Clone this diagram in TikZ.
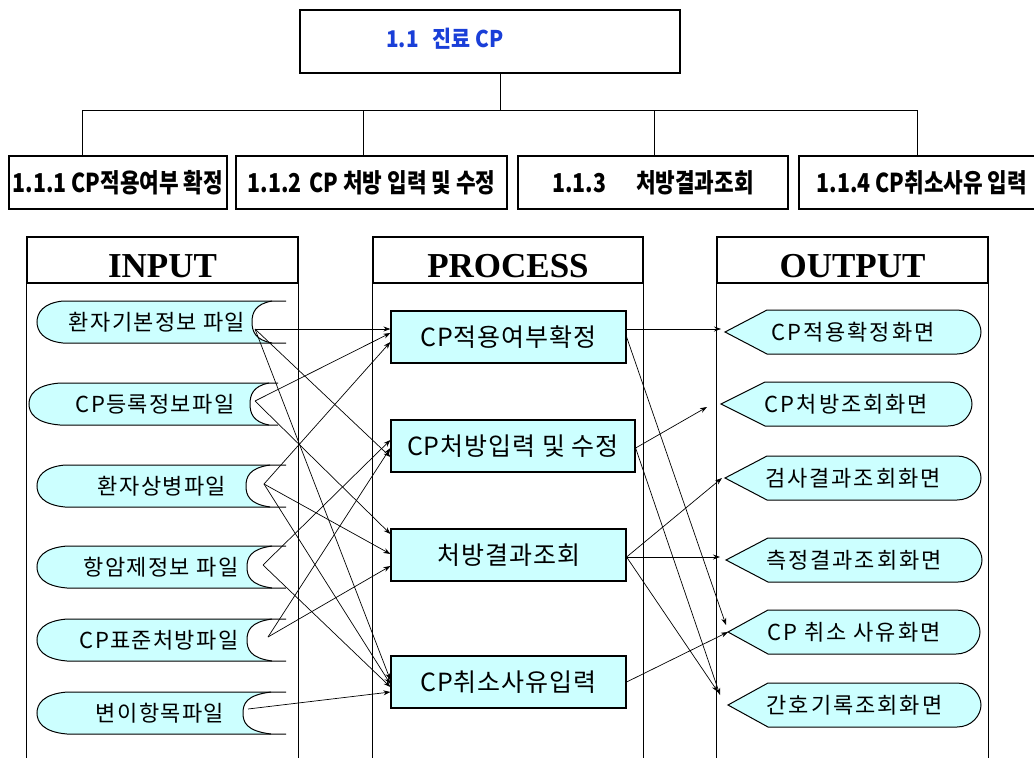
\documentclass[tikz,border=0pt]{standalone}
\usepackage{fontspec}
\setmainfont{Liberation Serif}
\newfontfamily\kri{Noto Sans CJK KR}[LetterSpace=6]
\newfontfamily\kro{Noto Sans CJK KR}[LetterSpace=9]
\newfontfamily\krp{Noto Sans CJK KR}[LetterSpace=4]
\newfontfamily\krh{Noto Sans CJK KR}[FakeStretch=0.82]
\newfontfamily\krt{Noto Sans CJK KR}[FakeStretch=0.9]
\usetikzlibrary{arrows.meta,calc}
\definecolor{cyanf}{HTML}{CCFFFF}
\definecolor{ttlblue}{HTML}{1A3FD8}
\newcommand\ishape[9]{%
 \fill[cyanf] (#4,{#2-21}) -- (#6,{#2-21}) .. controls ({#5+3},{#2-18}) and (#5,{#2-9}) .. (#5,#2) .. controls (#5,{#2+9}) and ({#5+3},{#2+18}) .. (#6,{#2+21}) -- (#4,{#2+21}) .. controls ({#3+6},{#2+19}) and (#3,{#2+9}) .. (#3,#2) .. controls (#3,{#2-9}) and ({#3+6},{#2-19}) .. (#4,{#2-21}) -- cycle;
 \draw[shline] (#7,{#2-21}) -- (#4,{#2-21}) .. controls ({#3+6},{#2-19}) and (#3,{#2-9}) .. (#3,#2) .. controls (#3,{#2+9}) and ({#3+6},{#2+19}) .. (#4,{#2+21}) -- (#7,{#2+21});
 \draw[shline] (#6,{#2-21}) .. controls ({#5+3},{#2-18}) and (#5,{#2-9}) .. (#5,#2) .. controls (#5,{#2+9}) and ({#5+3},{#2+18}) .. (#6,{#2+21});
 \node[itext] (#1) at (#8,#2) {#9};
}
\newcommand\oshape[6]{%
 \filldraw[shline,fill=cyanf] (#2,#4) coordinate (#1) -- (#3,{#4-22}) -- ({#5-24},{#4-22}) .. controls ({#5-9},{#4-22}) and (#5,{#4-10}) .. (#5,#4) .. controls (#5,{#4+10}) and ({#5-9},{#4+22}) .. ({#5-24},{#4+22}) -- (#3,{#4+22}) -- cycle;
 \node[otext] (#1t) at ({(#2+#5)/2},#4) {#6};
}
\begin{document}
\begin{tikzpicture}[x=1pt,y=-1pt,
  tbox/.style={draw, line width=1.3pt, fill=white, inner sep=0pt},
  sublabel/.style={font=\krh\bfseries\fontsize{26}{30}\selectfont},
  hdr/.style={font=\bfseries\fontsize{35}{38}\selectfont},
  panel/.style={line width=1.1pt},
  shline/.style={line width=1pt},
  itext/.style={font=\kri\fontsize{22}{26}\selectfont, inner sep=0pt},
  otext/.style={font=\kro\fontsize{22}{26}\selectfont, inner sep=0pt},
  pbox/.style={draw, line width=1.2pt, fill=cyanf, inner sep=0pt, minimum height=52pt, font=\krp\fontsize{25}{29}\selectfont},
  conn/.style={line width=0.7pt, -{Stealth[length=7pt,width=5pt]}},
  tline/.style={line width=1pt}
]
\useasboundingbox (0,0) rectangle (1034,758);
\clip (0,0) rectangle (1034,758);

% ---------- tree ----------
\node[tbox, minimum width=380pt, minimum height=63pt] (top) at (490,41.5) {};
\node[anchor=west, text=ttlblue, font=\krt\bfseries\fontsize{23}{26}\selectfont, inner sep=0pt] (ttl) at (386,39) {1.1\hspace{14pt}진료 CP};

\node[tbox, minimum width=218pt, minimum height=53pt, sublabel] (s1) at (118,182.5) {1.1.1 CP적용여부 확정};
\node[tbox, minimum width=271pt, minimum height=53pt, sublabel] (s2) at (371.5,182.5) {1.1.2\hspace{8pt}CP 처방 입력 및 수정};
\node[tbox, minimum width=270pt, minimum height=53pt, sublabel] (s3) at (653,182.5) {1.1.3\hspace{30pt}처방결과조회};
\node[tbox, minimum width=246pt, minimum height=53pt, sublabel] (s4) at (922,182.5) {1.1.4 CP취소사유 입력};

\coordinate (tj) at (500,110);
\coordinate (b1) at (82,110);
\coordinate (b2) at (363,110);
\coordinate (b3) at (654,110);
\coordinate (b4) at (917,110);
\draw[tline] (tj |- top.south) -- (tj);
\draw[tline] (b1) -- (b4);
\draw[tline] (b1) -- (b1 |- s1.north);
\draw[tline] (b2) -- (b2 |- s2.north);
\draw[tline] (b3) -- (b3 |- s3.north);
\draw[tline] (b4) -- (b4 |- s4.north);

% ---------- panels ----------
\node[draw, panel, minimum width=271pt, minimum height=46pt, inner sep=0pt] (inh) at (162.5,260) {};
\node[draw, panel, minimum width=270pt, minimum height=46pt, inner sep=0pt] (prh) at (508,260) {};
\node[draw, panel, minimum width=271pt, minimum height=46pt, inner sep=0pt] (ouh) at (852.5,260) {};
\node[hdr] (inht) at (162.5,266) {INPUT};
\node[hdr] (prht) at (508,266) {PROCESS};
\node[hdr] (ouht) at (852.5,266) {OUTPUT};
\foreach \p in {inh,prh,ouh}{
  \draw[panel] (\p.south west) -- ++(0,480);
  \draw[panel] (\p.south east) -- ++(0,480);
}

% ---------- input shapes ----------
\ishape{i1t}{322}{37}{63}{252}{272}{286}{157}{환자기본정보 파일}
\ishape{i2t}{404}{29}{60}{250}{269}{278}{155}{CP등록정보파일}
\ishape{i3t}{486}{37}{65}{246}{270}{286}{162}{환자상병파일}
\ishape{i4t}{567}{37}{67}{247}{272}{286}{161}{항암제정보 파일}
\ishape{i5t}{640}{37}{67}{247}{272}{286}{159}{CP표준처방파일}
\ishape{i6t}{713}{37}{67}{243}{271}{286}{160}{변이항목파일}

\coordinate (i1) at (255,329);
\coordinate (i2) at (255,401);
\coordinate (i3) at (264,484);
\coordinate (i4) at (263,565);
\coordinate (i5) at (268,637);
\coordinate (i6) at (248,709);

% ---------- process boxes ----------
\node[pbox, minimum width=235pt] (pa) at (508.5,337) {CP적용여부확정};
\node[pbox, minimum width=244pt] (pb) at (513,446) {CP처방입력 및 수정};
\node[pbox, minimum width=235pt] (pc) at (508.5,555) {처방결과조회};
\node[pbox, minimum width=235pt] (pd) at (508.5,682) {CP취소사유입력};

% ---------- output shapes ----------
\oshape{o1}{725}{767}{332}{981}{CP적용확정화면}
\oshape{o2}{721}{765}{404}{972}{CP처방조회화면}
\oshape{o3}{725}{767}{478}{981}{검사결과조회화면}
\oshape{o4}{726}{768}{560}{982}{측정결과조회화면}
\oshape{o5}{728}{768}{632}{980}{CP 취소 사유화면}
\oshape{o6}{728}{768}{705}{981}{간호기록조회화면}
\coordinate (o2f) at (707,407);

% ---------- input -> process ----------
\draw[conn] (i1) -- ([yshift=8pt]pa.west);
\draw[conn] (i2) -- ([yshift=4pt]pa.west);
\draw[conn] (i3) -- ([yshift=-5pt]pa.west);
\draw[conn] (i4) -- ([yshift=6pt]pb.west);
\draw[conn] (i5) -- ([yshift=-2pt]pb.west);
\draw[conn] (i1) -- ([yshift=-11pt]pb.west);
\draw[conn] (i2) -- ([yshift=21pt]pc.west);
\draw[conn] (i3) -- ([yshift=1pt]pc.west);
\draw[conn] (i5) -- ([yshift=-11pt]pc.west);
\draw[conn] (i1) -- ([yshift=2pt]pd.west);
\draw[conn] (i3) -- ([yshift=-2pt]pd.west);
\draw[conn] (i4) -- ([yshift=-5pt]pd.west);
\draw[conn] (i6) -- ([yshift=-10pt]pd.west);

% ---------- process -> output ----------
\draw[conn] ([yshift=8pt]pa.east) -- ([xshift=-4pt,yshift=3pt]o1);
\draw[conn] (pa.east) -- ([xshift=-2pt,yshift=7pt]o5);
\draw[conn] ([yshift=-2pt]pb.east) -- (o2f);
\draw[conn] ([yshift=-2pt]pb.east) -- ([xshift=-8pt,yshift=10pt]o6);
\draw[conn] ([yshift=-2pt]pc.east) -- ([xshift=-3pt]o3);
\draw[conn] ([yshift=-2pt]pc.east) -- ([xshift=-6pt,yshift=3pt]o4);
\draw[conn] ([yshift=-2pt]pc.east) -- ([xshift=-10pt,yshift=13pt]o6);
\draw[conn] (pd.east) -- (o5);
\end{tikzpicture}
\end{document}
